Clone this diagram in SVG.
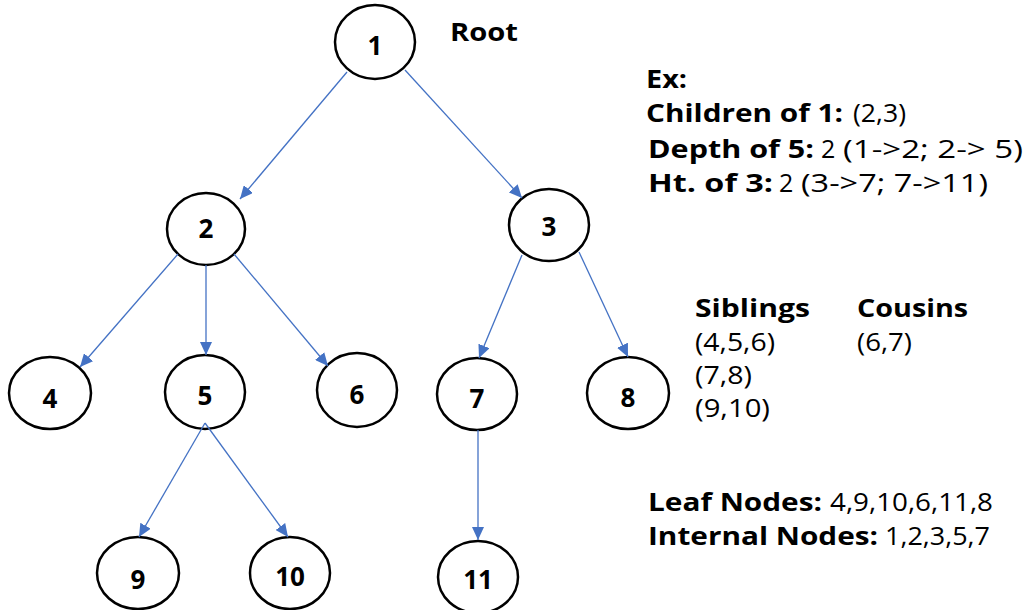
<svg xmlns="http://www.w3.org/2000/svg" width="1030" height="610" viewBox="0 0 1030 610">
<style>
.n ellipse{fill:#fff;stroke:#000;stroke-width:2.5}
.n text{font-family:"Open Sans","Noto Sans",sans-serif;font-weight:bold;font-size:26px;text-anchor:middle;fill:#000}
.e line{stroke:#4472C4;stroke-width:1.3;marker-end:url(#ah)}
.t{font-family:"Open Sans","Noto Sans",sans-serif;font-size:25px;fill:#000}
.b{font-weight:bold}
</style>
<defs>
<marker id="ah" markerUnits="userSpaceOnUse" markerWidth="14" markerHeight="12" refX="13" refY="6" orient="auto">
<path d="M0,0 L13,6 L0,12 z" fill="#4472C4"/>
</marker>
</defs>
<rect width="1030" height="610" fill="#fff"/>
<g class="n" id="node1"><ellipse cx="375" cy="42" rx="40" ry="37"/><text x="375" y="55">1</text></g>
<g class="n" id="node2"><ellipse cx="206" cy="229" rx="39" ry="36"/><text x="206" y="238">2</text></g>
<g class="n" id="node3"><ellipse cx="549" cy="225" rx="40" ry="36"/><text x="549" y="236">3</text></g>
<g class="n" id="node4"><ellipse cx="50" cy="393" rx="41" ry="36"/><text x="50" y="408">4</text></g>
<g class="n" id="node5"><ellipse cx="205" cy="392" rx="40" ry="37"/><text x="205" y="405">5</text></g>
<g class="n" id="node6"><ellipse cx="357" cy="390" rx="40" ry="37"/><text x="357" y="404">6</text></g>
<g class="n" id="node7"><ellipse cx="477" cy="394" rx="40" ry="36"/><text x="477" y="408">7</text></g>
<g class="n" id="node8"><ellipse cx="628" cy="393" rx="41" ry="36"/><text x="628" y="407">8</text></g>
<g class="n" id="node9"><ellipse cx="138" cy="573" rx="41" ry="36"/><text x="138" y="589">9</text></g>
<g class="n" id="node10"><ellipse cx="290" cy="573" rx="40" ry="36"/><text x="290" y="586">10</text></g>
<g class="n" id="node11"><ellipse cx="478" cy="577" rx="40" ry="36"/><text x="478" y="589">11</text></g>
<g class="e" id="connectors">
<line x1="347" y1="72" x2="240" y2="199"/>
<line x1="405" y1="70" x2="522" y2="198"/>
<line x1="178" y1="254" x2="80" y2="367"/>
<line x1="206" y1="265" x2="206" y2="355"/>
<line x1="234" y1="254" x2="328" y2="366"/>
<line x1="522" y1="255" x2="479" y2="358"/>
<line x1="579" y1="252" x2="628" y2="357"/>
<line x1="205" y1="423" x2="139" y2="537"/>
<line x1="205" y1="423" x2="288" y2="537"/>
<line x1="478" y1="430" x2="478" y2="540"/>
</g>
<g id="labels">
<text class="t b" x="450" y="41" textLength="68" lengthAdjust="spacingAndGlyphs">Root</text>
<text class="t b" x="646" y="88" textLength="41" lengthAdjust="spacingAndGlyphs">Ex:</text>
<text class="t b" x="646" y="122" textLength="197" lengthAdjust="spacingAndGlyphs">Children of 1:</text>
<text class="t" x="853" y="122" textLength="53" lengthAdjust="spacingAndGlyphs">(2,3)</text>
<text class="t b" x="648" y="158" textLength="166" lengthAdjust="spacingAndGlyphs">Depth of 5:</text>
<text class="t" x="821" y="158">2</text>
<text class="t" x="843" y="158" textLength="180" lengthAdjust="spacingAndGlyphs">(1-&gt;2; 2-&gt; 5)</text>
<text class="t b" x="648" y="192" textLength="125" lengthAdjust="spacingAndGlyphs">Ht. of 3:</text>
<text class="t" x="779" y="192">2</text>
<text class="t" x="801" y="192" textLength="187" lengthAdjust="spacingAndGlyphs">(3-&gt;7; 7-&gt;11)</text>
<text class="t b" x="695" y="317" textLength="115" lengthAdjust="spacingAndGlyphs">Siblings</text>
<text class="t" x="695" y="351" textLength="80" lengthAdjust="spacingAndGlyphs">(4,5,6)</text>
<text class="t" x="695" y="384" textLength="57" lengthAdjust="spacingAndGlyphs">(7,8)</text>
<text class="t" x="695" y="417" textLength="75" lengthAdjust="spacingAndGlyphs">(9,10)</text>
<text class="t b" x="857" y="317" textLength="111" lengthAdjust="spacingAndGlyphs">Cousins</text>
<text class="t" x="857" y="351" textLength="55" lengthAdjust="spacingAndGlyphs">(6,7)</text>
<text class="t b" x="648" y="511" textLength="174" lengthAdjust="spacingAndGlyphs">Leaf Nodes:</text>
<text class="t" x="830" y="511" textLength="163" lengthAdjust="spacingAndGlyphs">4,9,10,6,11,8</text>
<text class="t b" x="648" y="545" textLength="230" lengthAdjust="spacingAndGlyphs">Internal Nodes:</text>
<text class="t" x="885" y="545" textLength="105" lengthAdjust="spacingAndGlyphs">1,2,3,5,7</text>
</g>
</svg>
